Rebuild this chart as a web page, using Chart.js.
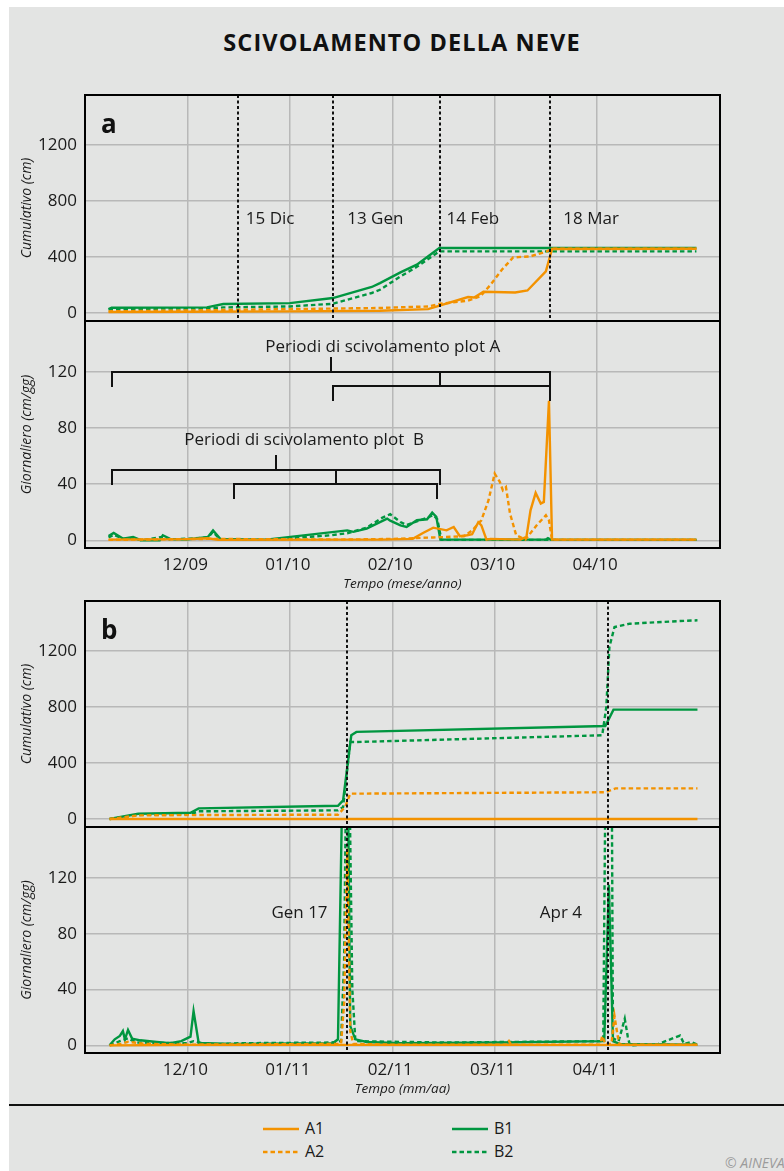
<!DOCTYPE html>
<html>
<head>
<meta charset="utf-8">
<script src="https://cdn.jsdelivr.net/npm/chart.js@4/dist/chart.umd.min.js"></script>
<style>
  html, body { margin: 0; padding: 0; background: #ffffff; }
  body { width: 784px; height: 1171px; position: relative; overflow: hidden; font-family: "Open Sans", sans-serif; }
  #sheet { position: absolute; left: 9px; top: 7px; width: 775px; height: 1164px; background: #e3e4e3; }
  #title { position: absolute; left: 402px; top: 28px; transform: translateX(-50%); white-space: nowrap;
           font-weight: 700; font-size: 23.5px; letter-spacing: 1.1px; line-height: 28px; color: #111; }
  canvas { position: absolute; left: 0; }
  #rule { position: absolute; left: 9px; top: 1104px; width: 775px; height: 2px; background: #111; }
  .key { position: absolute; height: 20px; line-height: 20px; font-size: 16px; color: #1a1a1a; white-space: nowrap; }
  .key svg { position: absolute; left: 0; top: 0; }
  .key span { position: absolute; left: 42px; top: 0; }
  #copy { position: absolute; left: 725px; top: 1153px; font-size: 14px; line-height: 20px; font-style: italic; color: #9b9b9b; white-space: nowrap; }
</style>
</head>
<body>
<div id="sheet"></div>
<div id="title">SCIVOLAMENTO DELLA NEVE</div>

<canvas id="cumA" width="784" height="243" style="top:80px"></canvas>
<canvas id="dayA" width="784" height="281" style="top:319px"></canvas>
<canvas id="cumB" width="784" height="243" style="top:586px"></canvas>
<canvas id="dayB" width="784" height="280" style="top:825px"></canvas>

<div id="rule"></div>
<div class="key" style="left:263px; top:1118px;">
  <svg width="40" height="20"><line x1="0" y1="11" x2="36" y2="11" stroke="#f39200" stroke-width="2.5"/></svg><span>A1</span>
</div>
<div class="key" style="left:263px; top:1141px;">
  <svg width="40" height="20"><line x1="0" y1="11" x2="36" y2="11" stroke="#f39200" stroke-width="2.5" stroke-dasharray="4.5 3"/></svg><span>A2</span>
</div>
<div class="key" style="left:452px; top:1118px;">
  <svg width="40" height="20"><line x1="0" y1="11" x2="36" y2="11" stroke="#009640" stroke-width="2.5"/></svg><span>B1</span>
</div>
<div class="key" style="left:452px; top:1141px;">
  <svg width="40" height="20"><line x1="0" y1="11" x2="36" y2="11" stroke="#009640" stroke-width="2.5" stroke-dasharray="4.5 3"/></svg><span>B2</span>
</div>
<div id="copy">© AINEVA</div>

<script>
// x positions are in months counted from the start of the first displayed month
// (1 = first labelled month, 2 = next, ...); values in cm or cm/day.

const monthLabelsA = ['12/09', '01/10', '02/10', '03/10', '04/10'];
const monthLabelsB = ['12/10', '01/11', '02/11', '03/11', '04/11'];
const monthTicks = [1, 2, 3, 4, 5];
const cumulTicks = [0, 400, 800, 1200];
const dailyTicks = [0, 40, 80, 120];

// ---- season a (2009/10) ----
// cumulative glide
const cumA_A1 = [[0.23,7],[1.00,9],[2.00,12],[2.88,16],[3.35,28],[3.74,114],[3.80,111],[3.89,152],[4.20,147],[4.32,161],[4.50,297],[4.56,457],[5.97,459]];
const cumA_A2 = [[0.23,12],[1.00,18],[2.00,28],[2.88,36],[3.35,47],[3.47,66],[3.74,88],[3.86,119],[3.96,202],[4.07,309],[4.18,397],[4.35,405],[4.51,440],[4.56,459],[5.97,459]];
const cumA_B1 = [[0.23,28],[0.26,38],[1.19,40],[1.35,64],[2.00,71],[2.42,107],[2.80,186],[2.88,214],[3.08,290],[3.24,345],[3.46,464],[5.97,464]];
const cumA_B2 = [[0.23,25],[0.26,30],[1.19,32],[1.35,40],[2.00,47],[2.42,66],[2.80,143],[2.88,166],[3.08,261],[3.24,330],[3.46,440],[5.97,440]];

// daily glide
const dayA_A1 = [[0.23,0.5],[1.00,0.8],[1.20,1.5],[1.30,0.3],[2.50,0.5],[2.88,0.5],[3.20,1],[3.30,5.2],[3.40,9],[3.53,7.1],[3.60,9.5],[3.66,2.9],[3.73,3.6],[3.78,4.3],[3.84,12.9],[3.87,10.7],[3.92,0.5],[3.96,1],[4.25,0.5],[4.31,2.4],[4.35,21.4],[4.40,33.8],[4.45,26.2],[4.48,27.4],[4.53,99.5],[4.56,0.5],[5.97,0.5]];
const dayA_A2 = [[0.23,0.3],[1.20,1],[2.50,0.5],[3.00,1],[3.40,2],[3.70,2.9],[3.78,7],[3.87,14.3],[3.94,28.6],[4.00,47.6],[4.05,41.7],[4.08,35.7],[4.11,38],[4.15,19],[4.21,3.6],[4.30,0.5],[4.41,10.7],[4.50,17.9],[4.53,14.3],[4.56,0.5],[5.97,0.5]];
const dayA_B1 = [[0.23,3],[0.28,5.2],[0.37,1.2],[0.47,2.4],[0.55,0],[0.73,0],[0.76,3.6],[0.83,1],[0.99,0.5],[1.20,2.4],[1.25,7.1],[1.32,1],[1.77,0.5],[2.56,7.1],[2.62,6],[2.75,8.3],[2.95,15.5],[2.98,14],[3.08,10.7],[3.14,9.5],[3.24,14.3],[3.34,15],[3.39,19.8],[3.43,16.7],[3.47,0.5],[4.50,0.5],[4.52,1.5],[4.55,0.3],[5.97,0.3]];
const dayA_B2 = [[0.23,2],[0.28,4],[0.37,1],[0.47,1.5],[0.55,0],[0.76,2.5],[0.83,0.5],[1.20,2],[1.25,6],[1.32,0.5],[1.77,0.3],[2.40,3.6],[2.56,5],[2.75,9],[2.90,16],[2.98,18.6],[3.08,13],[3.14,11],[3.24,13.5],[3.34,16],[3.40,18],[3.44,15],[3.48,0.3],[5.97,0.3]];

// ---- season b (2010/11) ----
const cumB_A1 = [[0.24,0],[1.00,0],[2.56,0],[5.10,0],[5.98,0]];
const cumB_A2 = [[0.24,0],[0.52,26],[1.03,28],[2.47,31],[2.54,86],[2.59,181],[5.08,191],[5.18,219],[5.98,219]];
const cumB_B1 = [[0.24,0],[0.52,38],[1.03,45],[1.11,76],[2.47,95],[2.52,133],[2.60,598],[2.65,622],[5.08,664],[5.16,781],[5.98,781]];
const cumB_B2 = [[0.24,0],[0.52,29],[1.03,35],[1.11,55],[2.47,62],[2.52,86],[2.59,550],[2.65,550],[5.05,598],[5.09,800],[5.12,1229],[5.17,1371],[5.32,1395],[5.81,1414],[5.98,1419]];

const dayB_A1 = [[0.24,0],[1.00,0.3],[2.00,0.3],[3.00,0.3],[4.00,0.3],[5.98,0.3]];
const dayB_A2 = [[0.24,0],[0.35,1],[0.42,2.5],[0.60,1],[1.00,0.5],[2.50,1],[2.53,30],[2.56,141],[2.59,10],[2.62,1],[3.00,0.5],[4.12,0.5],[4.14,3],[4.16,0.5],[5.03,0.5],[5.05,6.7],[5.08,1],[5.14,1],[5.17,21],[5.20,7],[5.22,0.5],[5.98,0.5]];
const dayB_B1 = [[0.24,0],[0.29,4.3],[0.34,6.7],[0.37,10.2],[0.39,4.3],[0.42,11],[0.46,4.8],[0.54,3.6],[0.70,2.4],[0.83,1.5],[0.94,3],[1.03,6.2],[1.06,24.5],[1.11,1.7],[1.45,1],[2.42,1.5],[2.47,4.3],[2.51,175],[2.54,190],[2.57,165],[2.59,13.8],[2.64,4.3],[2.75,2.4],[3.08,1.5],[4.05,2],[5.07,3],[5.115,115],[5.155,3],[5.22,1],[5.98,0.5]];
const dayB_B2 = [[0.24,0],[0.34,3],[0.42,5],[0.50,2],[1.00,1.5],[1.06,3],[1.20,0.5],[1.50,1.5],[2.40,2],[2.50,3],[2.53,60],[2.555,230],[2.58,200],[2.61,40],[2.64,3],[3.50,2],[5.06,3],[5.10,350],[5.13,400],[5.155,5],[5.21,3],[5.27,19],[5.30,6],[5.32,0],[5.60,1],[5.65,2.5],[5.81,7],[5.85,1],[5.92,2.4],[5.98,0.5]];

// glide events (dotted verticals) and their labels [text, x, y]
const eventsA = [1.49, 2.42, 3.47, 4.54];
const eventLabelsA = [['15 Dic', 1.57, 671], ['13 Gen', 2.56, 671], ['14 Feb', 3.53, 671], ['18 Mar', 4.67, 671]];
const eventsB = [2.56, 5.11];
const eventLabelsB = [['Gen 17', 1.82, 95], ['Apr 4', 4.44, 95]];

// glide periods of plot A and plot B, bracket segments [x1, y1, x2, y2]
const bracketPlotA = [
  [2.40,130,2.40,120], [0.26,120,4.54,120], [0.26,120,0.26,110], [3.47,120,3.47,110],
  [2.42,110,4.54,110], [2.42,110,2.42,100], [4.54,120,4.54,100]
];
const bracketPlotB = [
  [1.865,60.5,1.865,50.5], [0.26,50.5,3.47,50.5], [0.26,50.5,0.26,40], [3.47,50.5,3.47,40],
  [2.45,50.5,2.45,40], [1.45,40,3.44,40], [1.45,40,1.45,30], [3.44,40,3.44,30]
];
const periodLabels = [['Periodi di scivolamento plot A', 1.76, 138], ['Periodi di scivolamento plot  B', 0.97, 71.4]];

const ORANGE = '#f39200';
const GREEN = '#009640';
const GRID = '#b8b8b8';
const INK = '#1a1a1a';

Chart.defaults.font.family = '"Open Sans", sans-serif';
Chart.defaults.color = INK;

// frame, event lines, brackets and in-plot labels
const decor = {
  id: 'decor',
  afterDatasetsDraw(chart, args, o) {
    const { ctx, chartArea: ca, scales: { x, y } } = chart;
    ctx.save();
    ctx.strokeStyle = '#111';
    ctx.lineWidth = 2;
    ctx.setLineDash([3, 2.5]);
    (o.events || []).forEach(m => {
      const px = Math.round(x.getPixelForValue(m));
      ctx.beginPath();
      ctx.moveTo(px, ca.top);
      ctx.lineTo(px, ca.bottom);
      ctx.stroke();
    });
    ctx.setLineDash([]);
    ctx.lineCap = 'square';
    (o.brackets || []).forEach(seg => seg.forEach(([x1, y1, x2, y2]) => {
      ctx.beginPath();
      ctx.moveTo(Math.round(x.getPixelForValue(x1)), Math.round(y.getPixelForValue(y1)));
      ctx.lineTo(Math.round(x.getPixelForValue(x2)), Math.round(y.getPixelForValue(y2)));
      ctx.stroke();
    }));
    ctx.font = '17px "Open Sans"';
    ctx.fillStyle = INK;
    ctx.textAlign = 'left';
    ctx.textBaseline = 'middle';
    (o.labels || []).forEach(([t, lx, ly]) => ctx.fillText(t, x.getPixelForValue(lx), y.getPixelForValue(ly)));
    if (o.letter) {
      ctx.font = 'bold 26px "Open Sans"';
      ctx.fillStyle = '#111';
      ctx.textBaseline = 'alphabetic';
      ctx.fillText(o.letter, ca.left + 16, ca.top + 38);
    }
    ctx.lineCap = 'butt';
    ctx.strokeStyle = '#000';
    ctx.lineWidth = 2;
    ctx.strokeRect(ca.left, ca.top, ca.right - ca.left, ca.bottom - ca.top);
    ctx.restore();
  }
};

function series(data, color, dotted) {
  return {
    data: data.map(([x, y]) => ({ x, y })),
    borderColor: color,
    borderWidth: 2.4,
    borderDash: dotted ? [4.5, 3] : [],
    pointRadius: 0,
    tension: 0,
    fill: false
  };
}

// keep axis label overhang from shrinking the plot area
function noOverhang(s) {
  s.paddingTop = 0; s.paddingBottom = 0; s.paddingLeft = 0; s.paddingRight = 0;
}

function panel(id, cfg) {
  const daily = cfg.daily;
  return new Chart(document.getElementById(id), {
    type: 'line',
    data: {
      datasets: [
        series(cfg.a1, ORANGE, false),
        series(cfg.a2, ORANGE, true),
        series(cfg.b1, GREEN, false),
        series(cfg.b2, GREEN, true)
      ]
    },
    options: {
      responsive: false,
      animation: false,
      layout: { padding: { left: 0, right: 64, top: daily ? 2 : 15, bottom: daily ? 0 : 2 } },
      plugins: {
        legend: { display: false },
        tooltip: { enabled: false },
        decor: { events: cfg.events, labels: cfg.labels, brackets: cfg.brackets, letter: cfg.letter }
      },
      scales: {
        x: {
          type: 'linear',
          min: 0,
          max: 6.2,
          afterBuildTicks: s => { s.ticks = monthTicks.map(v => ({ value: v })); },
          afterFit: s => { s.height = daily ? 52 : 0; noOverhang(s); },
          grid: { color: GRID, lineWidth: 1.5, drawTicks: false },
          border: { display: false },
          ticks: {
            display: daily,
            padding: 7,
            labelOffset: -2,
            font: { size: 17 },
            color: INK,
            maxRotation: 0,
            autoSkip: false,
            callback: (v, i) => cfg.months[i]
          },
          title: {
            display: daily,
            text: cfg.xTitle,
            font: { size: 13.5, style: 'italic' },
            color: INK,
            padding: { top: 0, bottom: 8 }
          }
        },
        y: {
          min: daily ? -5.5 : -57,
          max: daily ? 156.5 : 1557,
          afterBuildTicks: s => { s.ticks = (daily ? dailyTicks : cumulTicks).map(v => ({ value: v })); },
          afterFit: s => { s.width = 85; noOverhang(s); },
          grid: { color: GRID, lineWidth: 1.5, drawTicks: false },
          border: { display: false },
          ticks: { padding: 8, font: { size: 17 }, color: INK, callback: v => String(v) },
          title: {
            display: true,
            text: daily ? 'Giornaliero (cm/gg)' : 'Cumulativo (cm)',
            font: { size: 14, style: 'italic' },
            color: INK,
            padding: { top: 18.5, bottom: 0 }
          }
        }
      }
    },
    plugins: [decor]
  });
}

panel('cumA', {
  daily: false, months: monthLabelsA, letter: 'a',
  a1: cumA_A1, a2: cumA_A2, b1: cumA_B1, b2: cumA_B2,
  events: eventsA, labels: eventLabelsA
});
panel('dayA', {
  daily: true, months: monthLabelsA, xTitle: 'Tempo (mese/anno)',
  a1: dayA_A1, a2: dayA_A2, b1: dayA_B1, b2: dayA_B2,
  brackets: [bracketPlotA, bracketPlotB], labels: periodLabels
});
panel('cumB', {
  daily: false, months: monthLabelsB, letter: 'b',
  a1: cumB_A1, a2: cumB_A2, b1: cumB_B1, b2: cumB_B2,
  events: eventsB
});
panel('dayB', {
  daily: true, months: monthLabelsB, xTitle: 'Tempo (mm/aa)',
  a1: dayB_A1, a2: dayB_A2, b1: dayB_B1, b2: dayB_B2,
  events: eventsB, labels: eventLabelsB
});
</script>
</body>
</html>
